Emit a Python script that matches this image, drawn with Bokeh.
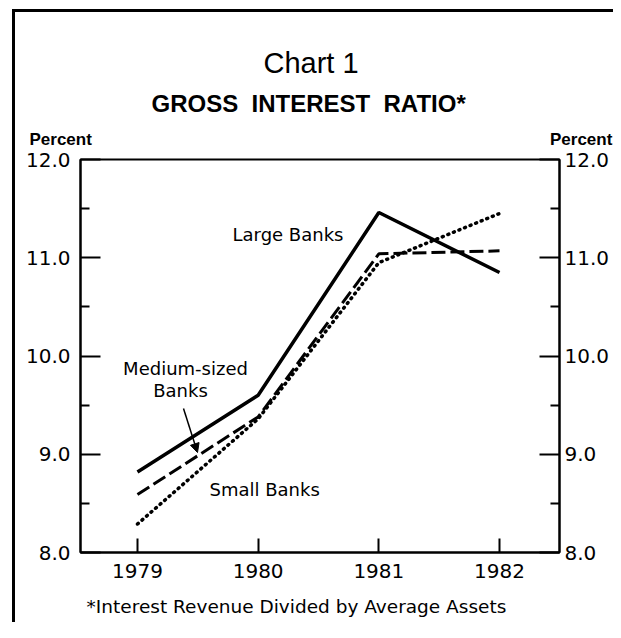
from bokeh.plotting import figure
from bokeh.models import (Range1d, LinearAxis, FixedTicker, PrintfTickFormatter,
                          Label, Arrow, NormalHead, Title)
from bokeh.embed import file_html
from bokeh.resources import INLINE

# ---- data ----
years = [1979, 1980, 1981, 1982]
large_banks = [8.82, 9.60, 11.46, 10.85]
medium_banks = [8.59, 9.38, 11.04, 11.07]
small_banks = [8.29, 9.36, 10.95, 11.45]
x_ticks = [1979, 1980, 1981, 1982]
y_ticks = [8, 9, 10, 11, 12]
y_minor_ticks = [8.5, 9.5, 10.5, 11.5]

# ---- layout ----
W, H = 613, 622
FL, FT, FR, FB = 80, 159, 559, 552  # plot frame in canvas px
X0, X1 = 1978.528, 1982.497
Y0, Y1 = 8.0, 12.0


def dx(px):
    return X0 + (px - FL) * (X1 - X0) / (FR - FL)


def dy(py):
    return Y0 + (FB - py) * (Y1 - Y0) / (FB - FT)


FONT = "DejaVu Sans"
NB = "\u00a0"

p = figure(width=W, height=H, x_range=Range1d(X0, X1), y_range=Range1d(Y0, Y1),
           output_backend="svg", toolbar_location=None,
           min_border_left=FL, min_border_right=W - FR,
           min_border_top=0, min_border_bottom=H - FB,
           background_fill_color="white", border_fill_alpha=0)
p.title.visible = False
p.grid.visible = False
p.outline_line_color = "black"
p.outline_line_width = 2
p.outline_line_alpha = 1.0
# page frame lines (top and left rules of the printed exhibit box)
p.styles = {
    "background-color": "white",
    "background-image": "linear-gradient(#000, #000), linear-gradient(#000, #000)",
    "background-position": "12px 9px, 12px 9px",
    "background-size": "calc(100% - 12px) 3px, 3px calc(100% - 9px)",
    "background-repeat": "no-repeat, no-repeat",
}

right_axis = LinearAxis()
p.add_layout(right_axis, "right")

for ax, standoff in ((p.yaxis[0], 10), (right_axis, 5)):
    ax.ticker = FixedTicker(ticks=y_ticks, minor_ticks=y_minor_ticks)
    ax.formatter = PrintfTickFormatter(format="%.1f")
    ax.major_tick_in = 20
    ax.major_tick_out = 0
    ax.minor_tick_in = 9
    ax.minor_tick_out = 0
    ax.axis_line_width = 2
    ax.major_tick_line_width = 2
    ax.minor_tick_line_width = 2
    ax.axis_line_color = "black"
    ax.major_tick_line_color = "black"
    ax.minor_tick_line_color = "black"
    ax.major_label_text_font = FONT
    ax.major_label_text_font_size = "20px"
    ax.major_label_text_color = "black"
    ax.major_label_standoff = standoff

xa = p.xaxis[0]
xa.ticker = FixedTicker(ticks=x_ticks, minor_ticks=[])
xa.formatter = PrintfTickFormatter(format="%d")
xa.major_tick_in = 14
xa.major_tick_out = 0
xa.minor_tick_line_color = None
xa.axis_line_width = 2
xa.major_tick_line_width = 2
xa.axis_line_color = "black"
xa.major_tick_line_color = "black"
xa.major_label_text_font = FONT
xa.major_label_text_font_size = "20px"
xa.major_label_text_color = "black"
xa.major_label_standoff = 11
# footnote under the chart (trailing no-break spaces shift it left of centre)
xa.axis_label = "*Interest Revenue Divided by Average Assets" + NB * 8
xa.axis_label_text_font = FONT
xa.axis_label_text_font_size = "18.5px"
xa.axis_label_text_font_style = "normal"
xa.axis_label_text_color = "black"
xa.axis_label_standoff = 15

# ---- series ----
p.line(years, large_banks, line_color="black", line_width=3.5)
p.line(years, medium_banks, line_color="black", line_width=3, line_dash="14 5")
p.line(years, small_banks, line_color="black", line_width=3.5, line_dash="1 5",
       line_cap="round")

# ---- texts inside the plot area ----
def add_label(text, px, py, size, align="left", baseline="middle"):
    p.add_layout(Label(x=dx(px), y=dy(py), text=text, text_font=FONT,
                       text_font_size=size, text_align=align,
                       text_baseline=baseline, text_color="black"))


add_label("Large Banks", 232, 234, "18px")
add_label("Medium-sized", 185, 368, "18px", align="center")
add_label("Banks", 180, 390, "18px", align="center")
add_label("Small Banks", 209, 489, "18px")

p.add_layout(Arrow(end=NormalHead(size=9, fill_color="black", line_color="black",
                                  line_width=1),
                   x_start=dx(183), y_start=dy(408), x_end=dx(197), y_end=dy(452),
                   line_color="black", line_width=1.5))

# ---- titles stacked outward from the frame ----
p.add_layout(Title(text="Percent" + NB * 97 + "Percent", align="left", offset=-51,
                   vertical_align="bottom", standoff=22, text_font="Liberation Sans",
                   text_font_style="bold", text_font_size="17px",
                   text_color="black"), "above")
p.add_layout(Title(text="GROSS" + NB * 2 + "INTEREST" + NB * 2 + "RATIO*",
                   align="left", offset=71, vertical_align="bottom", standoff=0,
                   text_font="Liberation Sans", text_font_style="bold",
                   text_font_size="24px", text_color="black"), "above")
p.add_layout(Title(text="Chart 1", align="left", offset=183,
                   vertical_align="bottom", standoff=17,
                   text_font="Liberation Sans", text_font_style="normal",
                   text_font_size="29px", text_color="black"), "above")
p.add_layout(Title(text=NB, align="left", vertical_align="bottom", standoff=23,
                   text_font_size="10px"), "above")

open("out.html", "w").write(file_html(p, INLINE))
